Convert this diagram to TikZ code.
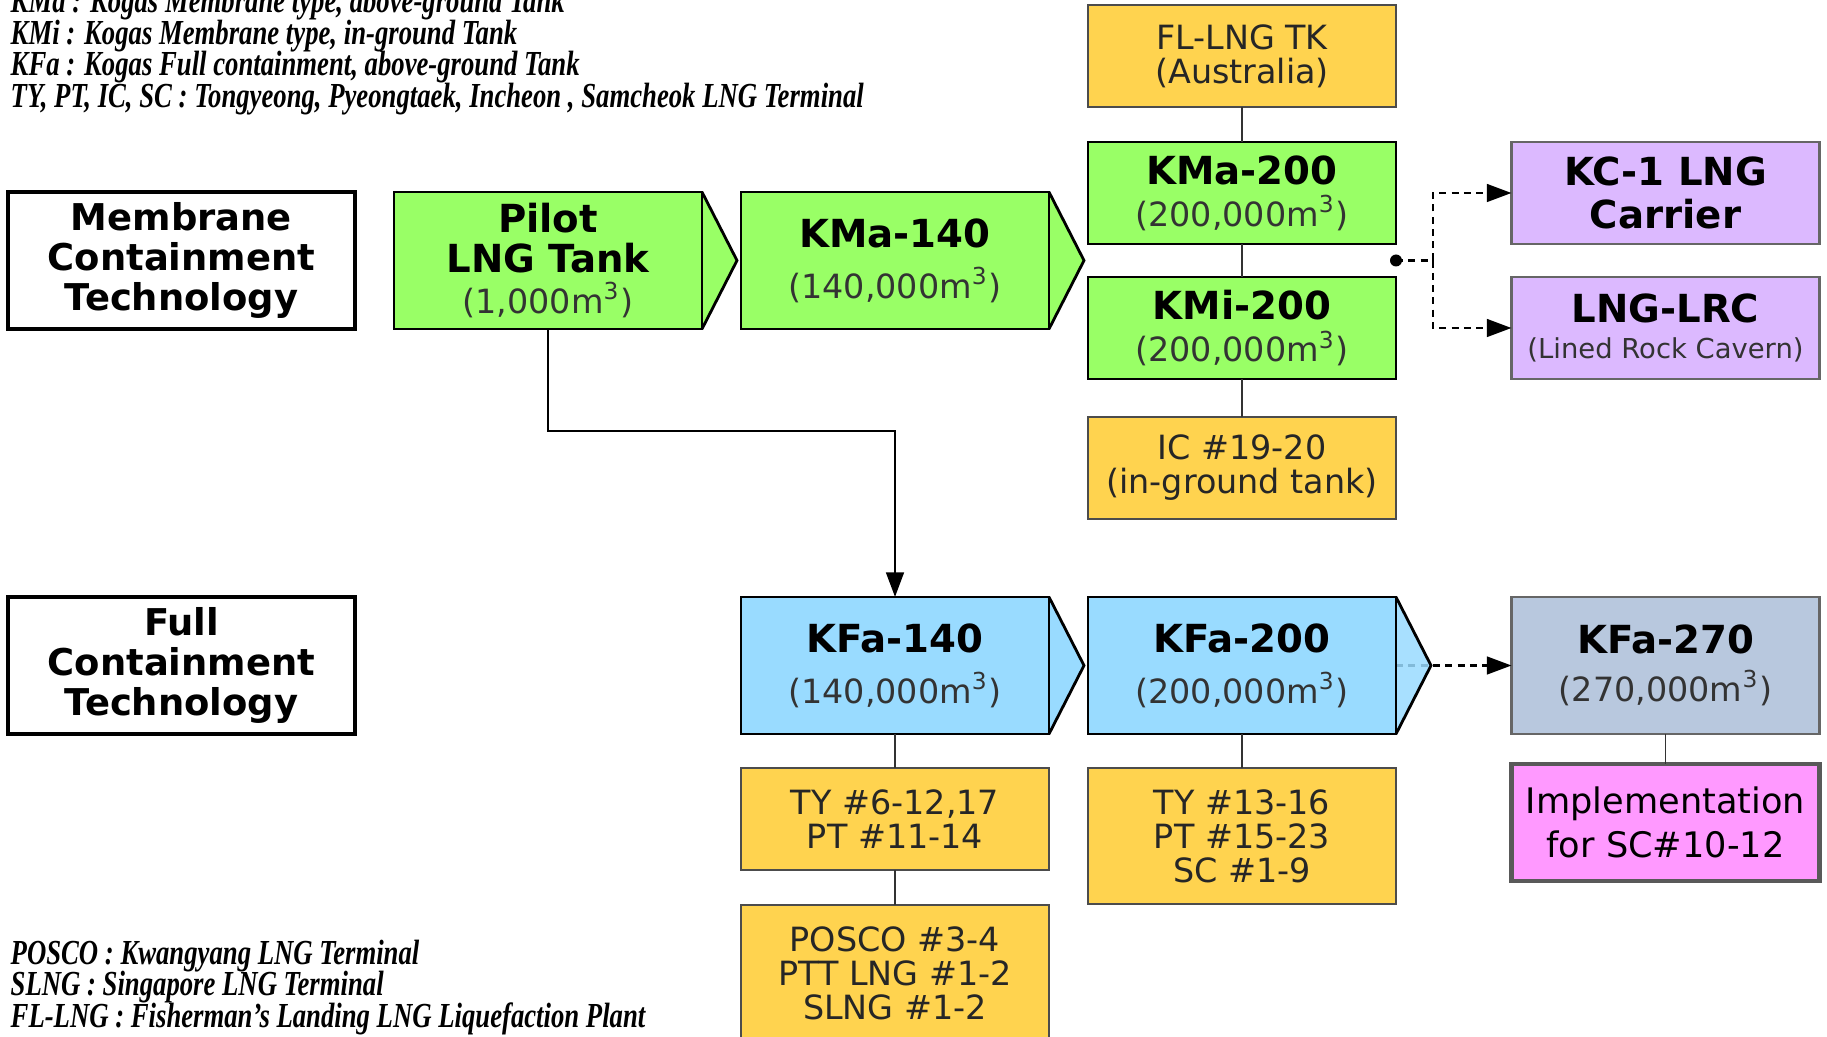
\documentclass[tikz,border=0pt]{standalone}
\usepackage{fontspec}
\setmainfont{DejaVu Sans}
\newfontfamily\notefont[FakeStretch=0.76]{Liberation Serif}
\usetikzlibrary{positioning,arrows.meta}

\definecolor{tankgreen}{HTML}{99FF66}
\definecolor{tankblue}{HTML}{99DBFF}
\definecolor{siteyellow}{HTML}{FFD34F}
\definecolor{carrierlilac}{HTML}{DCB9FF}
\definecolor{futuregrey}{HTML}{B8C8DE}
\definecolor{implpink}{HTML}{FF99FF}

\newcommand{\tankname}[1]{{\bfseries #1}}
\newcommand{\volume}[1]{{\fontsize{9.5}{9.5}\selectfont\color{black!80}(#1m\textsuperscript{3})}}
\newcommand{\chevron}[3][1]{% opacity, node, colour
  \fill[#3,fill opacity=#1] (#2.north east) -- ([xshift=0.35cm]#2.east) -- (#2.south east) -- cycle;
  \draw[line width=0.8pt] (#2.north east) -- ([xshift=0.35cm]#2.east) -- (#2.south east);
  \draw[line width=0.8pt] (#2.north east) -- (#2.south east);}

\begin{document}
\begin{tikzpicture}
        \tikzstyle{box}=[rectangle,draw,align=center,inner sep=0pt,outer sep=0pt,minimum width=3.08cm,minimum height=1.02cm]
        \tikzstyle{tech box}=[box,fill=white,line width=0.9pt,minimum width=3.47cm,minimum height=1.37cm,font=\fontsize{10.5}{11.5}\selectfont\bfseries]
        \tikzstyle{tank box}=[box,line width=0.8pt,font=\fontsize{11}{12}\selectfont]
        \tikzstyle{tall box}=[tank box,minimum height=1.37cm,font=\fontsize{11}{14.5}\selectfont]
        \tikzstyle{site box}=[box,fill=siteyellow,draw=black!70,line width=0.6pt,text=black!85,font=\fontsize{9.5}{9.7}\selectfont]
        \tikzstyle{note}=[anchor=base west,inner sep=0pt,font=\notefont\bfseries\itshape\fontsize{10}{10}\selectfont]
        \tikzstyle{link}=[draw=black!80,line width=0.5pt]
        \tikzstyle{flow}=[line width=0.8pt,-{Triangle[length=7pt,width=5pt]}]
        \tikzstyle{maybe}=[line width=0.8pt,dash pattern=on 2pt off 1.5pt]
        \tikzstyle{maybe arrow}=[maybe,-{Triangle[length=7pt,width=5pt]}]

        \useasboundingbox (0,0) rectangle (18.27,-10.37);

        % Abbreviations
        \node[note] (keyKMa) at (0.1,-0.13) {KMa : Kogas Membrane type, above-ground Tank};
        \node[note] (keyKMi) at (0.1,-0.445) {KMi : Kogas Membrane type, in-ground Tank};
        \node[note] (keyKFa) at (0.1,-0.76) {KFa : Kogas Full containment, above-ground Tank};
        \node[note] (keySite) at (0.1,-1.075) {TY, PT, IC, SC : Tongyeong, Pyeongtaek, Incheon , Samcheok LNG Terminal};
        \node[note] (keyPOSCO) at (0.1,-9.64) {POSCO : Kwangyang LNG Terminal};
        \node[note] (keySLNG) at (0.1,-9.95) {SLNG : Singapore LNG Terminal};
        \node[note] (keyFL) at (0.1,-10.27) {FL-LNG : Fisherman’s Landing LNG Liquefaction Plant};

        % Membrane containment line
        \node[tech box] (membrane) at (1.815,-2.605) {Membrane\\Containment\\Technology};
        \node[tall box,fill=tankgreen,right=0.39cm of membrane,font=\fontsize{11}{11.5}\selectfont] (pilot)
            {\tankname{Pilot}\\\tankname{LNG Tank}\\\volume{1,000}};
        \node[tall box,fill=tankgreen,right=0.39cm of pilot] (kma140) {\tankname{KMa-140}\\\volume{140,000}};
        \node[tank box,fill=tankgreen] (kma200) at (12.42,-1.93) {\tankname{KMa-200}\\\volume{200,000}};
        \node[tank box,fill=tankgreen,below=0.33cm of kma200] (kmi200) {\tankname{KMi-200}\\\volume{200,000}};
        \node[site box,above=0.35cm of kma200] (flng) {FL-LNG TK\\(Australia)};
        \node[site box,below=0.38cm of kmi200] (ic) {IC \#19-20\\(in-ground tank)};
        \node[tank box,fill=carrierlilac,draw=black!60] (kc1) at (16.655,-1.93) {\tankname{KC-1 LNG}\\\tankname{Carrier}};
        \node[tank box,fill=carrierlilac,draw=black!60,below=0.33cm of kc1,font=\fontsize{11}{10.5}\selectfont] (lrc)
            {\tankname{LNG-LRC}\\{\fontsize{7.8}{8}\selectfont\color{black!80}(Lined Rock Cavern)}};

        % Full containment line
        \node[tech box] (full) at (1.815,-6.655) {Full\\Containment\\Technology};
        \node[tall box,fill=tankblue] (kfa140) at (kma140 |- full) {\tankname{KFa-140}\\\volume{140,000}};
        \node[tall box,fill=tankblue] (kfa200) at (kma200 |- full) {\tankname{KFa-200}\\\volume{200,000}};
        \node[tall box,fill=futuregrey,draw=black!60,font=\fontsize{11}{13.5}\selectfont] (kfa270) at (kc1 |- full)
            {\tankname{KFa-270}\\\volume{270,000}};
        \node[site box,below=0.34cm of kfa140] (ty6) {TY \#6-12,17\\PT \#11-14};
        \node[site box,below=0.35cm of ty6,minimum height=1.37cm] (posco) {POSCO \#3-4\\PTT LNG \#1-2\\SLNG \#1-2};
        \node[site box,below=0.34cm of kfa200,minimum height=1.36cm] (ty13) {TY \#13-16\\PT \#15-23\\SC \#1-9};
        \node[box,fill=implpink,draw=black!65,line width=1.3pt,below=0.30cm of kfa270,minimum height=1.17cm,
            font=\fontsize{10}{12.6}\selectfont] (impl) {Implementation\\for SC\#10-12};

        % Connectors
        \draw[link] (flng) -- (kma200);
        \draw[link] (kma200) -- (kmi200);
        \draw[link] (kmi200) -- (ic);
        \draw[link] (kfa140) -- (ty6);
        \draw[link] (ty6) -- (posco);
        \draw[link] (kfa200) -- (ty13);
        \draw[link] (kfa270) -- (impl);
        \draw[flow] (pilot.south) -- ++(0,-1.02) -| (kfa140.north);

        \coordinate (split) at (kma140.east -| kma200.east);
        \coordinate[right=0.37cm of split] (fork);
        \draw[maybe] (split) -- (fork);
        \draw[maybe arrow] (fork) |- (kc1.west);
        \draw[maybe arrow] (fork) |- (lrc.west);
        \fill (split) circle (0.06);
        \draw[maybe arrow] (kfa200.east) -- (kfa270.west);

        % Arrow heads of the boxes
        \chevron{pilot}{tankgreen}
        \chevron{kma140}{tankgreen}
        \chevron{kfa140}{tankblue}
        \chevron[0.85]{kfa200}{tankblue}
    \end{tikzpicture}
\end{document}
